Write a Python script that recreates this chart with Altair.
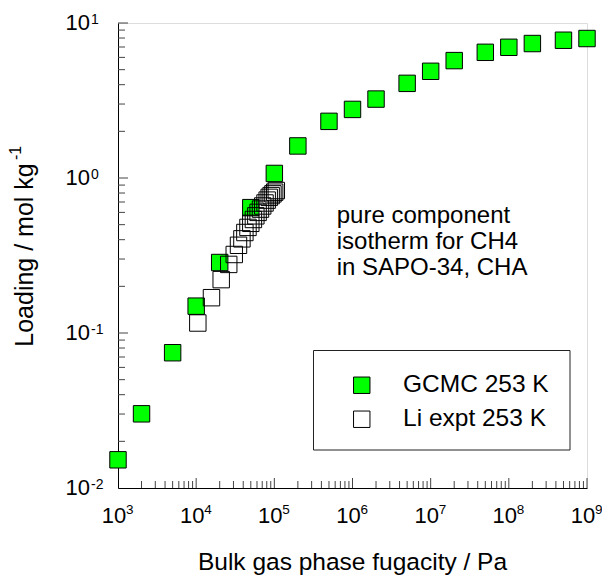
import altair as alt
import pandas as pd

# ---------------- data ----------------
gcmc_fugacity = [1e3, 2e3, 5e3, 1e4, 2e4, 5e4, 1e5, 2e5, 5e5, 1e6, 2e6, 5e6,
                 1e7, 2e7, 5e7, 1e8, 2e8, 5e8, 1e9]
gcmc_loading = [0.0152, 0.0301, 0.0746, 0.149, 0.285, 0.644, 1.07, 1.61, 2.32,
                2.77, 3.23, 4.08, 4.88, 5.72, 6.47, 6.97, 7.37, 7.74, 7.94]

li_fugacity = [10500, 15700, 20900, 26100, 30700, 34800, 38500, 42000, 46000,
               50000, 54000, 58000, 62000, 66500, 71000, 76000, 81000, 86000,
               91000, 96000, 101000, 106000]
li_loading = [0.116, 0.169, 0.221, 0.277, 0.321, 0.368, 0.405, 0.445, 0.48,
              0.51, 0.54, 0.57, 0.60, 0.63, 0.66, 0.69, 0.72, 0.75, 0.77,
              0.79, 0.81, 0.83]

series_names = ["GCMC 253 K", "Li expt 253 K"]
series_fill = ["#00ff00", "transparent"]

x_decades = [1e3, 1e4, 1e5, 1e6, 1e7, 1e8, 1e9]
x_exponents = ["3", "4", "5", "6", "7", "8", "9"]
y_decades = [1e-2, 1e-1, 1e0, 1e1]
y_exponents = ["-2", "-1", "0", "1"]

x_minor = [m * 10.0 ** e for e in range(3, 9) for m in range(2, 10)]
x_major = x_decades[1:]
y_minor = [m * 10.0 ** e for e in range(-2, 1) for m in range(2, 10)]
y_major = y_decades[1:]

annotation_lines = ["pure component", "isotherm for CH4", "in SAPO-34, CHA"]

# ---------------- layout ----------------
W, H = 469, 465
FONT = "Liberation Sans"

df = pd.DataFrame({
    "f": gcmc_fugacity + li_fugacity,
    "q": gcmc_loading + li_loading,
    "series": [series_names[0]] * len(gcmc_fugacity) + [series_names[1]] * len(li_fugacity),
})

xscale = alt.Scale(type="log", domain=[1e3, 1e9], nice=False)
yscale = alt.Scale(type="log", domain=[1e-2, 1e1], nice=False)
xaxis = alt.Axis(title=None, labels=False, ticks=False, grid=False, domain=True,
                 domainColor="black", domainWidth=1)
yaxis = alt.Axis(title=None, labels=False, ticks=False, grid=False, domain=True,
                 domainColor="black", domainWidth=1)

points = alt.Chart(df).mark_point(
    shape="square", size=270, filled=True, stroke="black", strokeWidth=1, opacity=1
).encode(
    x=alt.X("f:Q", scale=xscale, axis=xaxis),
    y=alt.Y("q:Q", scale=yscale, axis=yaxis),
    fill=alt.Fill("series:N",
                  scale=alt.Scale(domain=series_names, range=series_fill),
                  legend=alt.Legend(orient="none", legendX=231.5, legendY=350,
                                    title=None, symbolType="square", symbolSize=270,
                                    symbolStrokeColor="black", symbolStrokeWidth=1,
                                    symbolOpacity=1,
                                    labelFontSize=24.5, labelFont=FONT, labelColor="black",
                                    labelOffset=29, rowPadding=9)),
    order=alt.Order("series:N", sort="ascending"),
)

TICK = "#444444"

def xticks(vals, length):
    return alt.Chart(pd.DataFrame({"f": vals})).mark_rule(color=TICK, strokeWidth=1).encode(
        x=alt.X("f:Q", scale=xscale, axis=xaxis),
        y=alt.value(H), y2=alt.value(H - length))

def yticks(vals, length):
    return alt.Chart(pd.DataFrame({"q": vals})).mark_rule(color=TICK, strokeWidth=1).encode(
        y=alt.Y("q:Q", scale=yscale, axis=yaxis),
        x=alt.value(0), x2=alt.value(length))

xlab_df = pd.DataFrame({"f": x_decades, "e": x_exponents})
ylab_df = pd.DataFrame({"q": y_decades, "e": y_exponents})

xlab_base = alt.Chart(xlab_df).mark_text(
    font=FONT, fontSize=22, align="center", baseline="top", dx=-4, color="black"
).encode(x=alt.X("f:Q", scale=xscale, axis=xaxis), y=alt.value(H + 18), text=alt.value("10"))
xlab_exp = alt.Chart(xlab_df).mark_text(
    font=FONT, fontSize=13.5, align="left", baseline="top", dx=8, color="black"
).encode(x=alt.X("f:Q", scale=xscale, axis=xaxis), y=alt.value(H + 15), text="e:N")

ylab_base = alt.Chart(ylab_df).mark_text(
    font=FONT, fontSize=22, align="right", baseline="middle", color="black"
).encode(y=alt.Y("q:Q", scale=yscale, axis=yaxis), x=alt.value(-28), text=alt.value("10"))
ylab_exp = alt.Chart(ylab_df).mark_text(
    font=FONT, fontSize=14, align="left", baseline="top", dy=-10, color="black"
).encode(y=alt.Y("q:Q", scale=yscale, axis=yaxis), x=alt.value(-27), text="e:N")

xtitle = alt.Chart().mark_text(
    font=FONT, fontSize=24.5, align="center", baseline="alphabetic", color="black"
).encode(x=alt.value(W / 2), y=alt.value(547), text=alt.value("Bulk gas phase fugacity / Pa"))

ytitle = alt.Chart().mark_text(
    font=FONT, fontSize=25, align="center", baseline="alphabetic", angle=270, color="black"
).encode(x=alt.value(-85), y=alt.value(232), text=alt.value("Loading / mol kg"))
ytitle_sup = alt.Chart().mark_text(
    font=FONT, fontSize=16, align="left", baseline="alphabetic", angle=270, color="black"
).encode(x=alt.value(-97), y=alt.value(137), text=alt.value("-1"))

def note_line(txt, ypos):
    return alt.Chart().mark_text(
        font=FONT, fontSize=24, align="left", baseline="alphabetic", color="black"
    ).encode(x=alt.value(218.7), y=alt.value(ypos), text=alt.value(txt))

notes = [note_line(t, 200 + 26 * i) for i, t in enumerate(annotation_lines)]

legend_box = alt.Chart().mark_rect(
    fillOpacity=0, stroke="#222222", strokeWidth=1
).encode(x=alt.value(195.5), x2=alt.value(452), y=alt.value(327.5), y2=alt.value(427))

chart = alt.layer(
    legend_box,
    xticks(x_minor, 7), xticks(x_major, 10),
    yticks(y_minor, 7), yticks(y_major, 10),
    points,
    xlab_base, xlab_exp, ylab_base, ylab_exp,
    xtitle, ytitle, ytitle_sup, *notes,
).properties(
    width=W, height=H,
    autosize=alt.AutoSizeParams(type="none"),
    padding={"left": 110, "top": 15, "right": 15, "bottom": 89},
).configure_view(strokeWidth=0).configure(background="white")

chart.save("out.html", embed_options={"renderer": "svg", "actions": False})
